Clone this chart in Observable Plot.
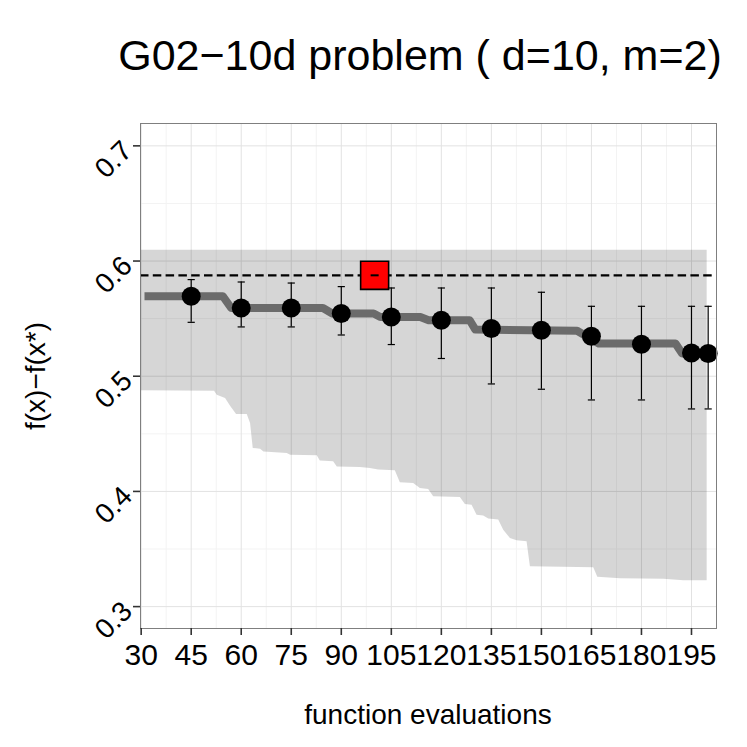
<!DOCTYPE html>
<html>
<head>
<meta charset="utf-8">
<script src="https://cdn.jsdelivr.net/npm/d3@7"></script>
<script src="https://cdn.jsdelivr.net/npm/@observablehq/plot@0.6"></script>
<style>
  html, body { margin: 0; padding: 0; background: white; }
  #chart { width: 747px; height: 747px; }
</style>
</head>
<body>
<div id="chart"></div>
<script>
// ---- data ----
const titleText = "G02−10d problem ( d=10, m=2)";
const xLabel = "function evaluations";
const yLabel = "f(x)−f(x*)";

const xTicks = [30, 45, 60, 75, 90, 105, 120, 135, 150, 165, 180, 195];
const xMinor = [37.5, 52.5, 67.5, 82.5, 97.5, 112.5, 127.5, 142.5, 157.5, 172.5, 187.5];
const yTicks = [0.3, 0.4, 0.5, 0.6, 0.7];
const yMinor = [0.35, 0.45, 0.55, 0.65];

// points with error bars (every 15 evaluations + final)
const evalX = [45, 60, 75, 90, 105, 120, 135, 150, 165, 180, 195, 200];
const meanY = [0.5694, 0.5592, 0.5592, 0.5544, 0.5514, 0.5486, 0.5414, 0.5399, 0.5347, 0.5278, 0.5202, 0.5197];
const errHi = [0.5839, 0.5818, 0.5809, 0.5778, 0.5766, 0.5766, 0.5766, 0.5729, 0.5607, 0.5607, 0.5607, 0.5607];
const errLo = [0.5468, 0.5428, 0.5428, 0.5358, 0.5275, 0.5154, 0.4933, 0.4887, 0.4794, 0.4794, 0.4716, 0.4716];

// thick grey step line
const stepX = [31, 54.5, 57, 84.5, 87.3, 99.7, 101.7, 113.7, 116.2, 128.5, 130.2, 160.7, 167.2, 190.2, 192.2, 200];
const stepY = [0.5694, 0.5694, 0.5592, 0.5592, 0.5544, 0.5544, 0.5514, 0.5514, 0.5486, 0.5486, 0.5405, 0.5395, 0.5284, 0.5284, 0.5197, 0.5197];

// ribbon (lower edge varies, upper edge constant)
const ribX = [30, 52.0, 52.8, 55.3, 56.8, 58.6, 61.8, 62.8, 63.6, 65.8, 66.8, 73.8, 74.8, 82.8, 83.7, 87.7, 88.8, 95.7, 98.7, 101.2, 106.2, 107.7, 111.7, 113.7, 116.2, 117.7, 125.7, 127.2, 129.2, 130.7, 132.7, 134.2, 137.2, 138.7, 140.7, 142.7, 145.7, 146.7, 165.7, 166.9, 173.7, 186.7, 192.7, 199.7];
const ribLo = [0.4873, 0.487, 0.4835, 0.4807, 0.474, 0.4668, 0.4668, 0.459, 0.4373, 0.4367, 0.4343, 0.433, 0.4315, 0.4309, 0.4265, 0.4257, 0.4213, 0.4208, 0.42, 0.4185, 0.4179, 0.4075, 0.4069, 0.4026, 0.4017, 0.3953, 0.3948, 0.3887, 0.3881, 0.3794, 0.3786, 0.376, 0.3751, 0.3664, 0.3592, 0.3572, 0.3563, 0.3346, 0.3337, 0.3254, 0.3242, 0.3237, 0.3225, 0.3225];
const ribHi = 0.6093;

// reference value (dashed line) and red square marker
const refY = [0.5876];
const squareX = [100];
const squareY = [0.5876];

// ---- build tables ----
const points = evalX.map((x, i) => ({x, y: meanY[i], lo: errLo[i], hi: errHi[i]}));
const step = stepX.map((x, i) => ({x, y: stepY[i]}));
const ribbon = ribX.map((x, i) => ({x, lo: ribLo[i], hi: ribHi}));
const square = squareX.map((x, i) => ({x, y: squareY[i]}));

const capSymbol = {
  draw(context, size) {
    const r = Math.sqrt(size / Math.PI);
    context.moveTo(-r, 0);
    context.lineTo(r, 0);
  }
};

const font = "'Liberation Sans', Arial, Helvetica, sans-serif";

const svg = Plot.plot({
  width: 747,
  height: 747,
  marginLeft: 140,
  marginRight: 31,
  marginTop: 123,
  marginBottom: 119,
  style: {fontFamily: font, background: "white", color: "black"},
  x: {domain: [29.8, 202.5], label: null},
  y: {domain: [0.281, 0.7194], label: null},
  marks: [
    Plot.ruleX(xMinor, {stroke: "#f3f3f3", strokeWidth: 1}),
    Plot.ruleY(yMinor, {stroke: "#f3f3f3", strokeWidth: 1}),
    Plot.ruleX(xTicks, {stroke: "#e2e2e2", strokeWidth: 1}),
    Plot.ruleY(yTicks, {stroke: "#e2e2e2", strokeWidth: 1}),
    Plot.areaY(ribbon, {x: "x", y1: "lo", y2: "hi", fill: "black", fillOpacity: 0.16, curve: "linear"}),
    Plot.line(step, {x: "x", y: "y", stroke: "#6b6b6b", strokeWidth: 8, strokeLinejoin: "round", strokeLinecap: "butt"}),
    Plot.ruleY(refY, {stroke: "black", strokeWidth: 2.2, strokeDasharray: "8.5,4.3"}),
    Plot.dot(points, {x: "x", y: "y", r: 9.5, fill: "black", stroke: "none"}),
    Plot.dot(square, {x: "x", y: "y", symbol: "square", r: 15.8, fill: "#ff0000", stroke: "black", strokeWidth: 1.6}),
    Plot.ruleX(points, {x: "x", y1: "lo", y2: "hi", stroke: "black", strokeWidth: 1.2}),
    Plot.dot(points, {x: "x", y: "hi", symbol: capSymbol, r: 3.6, stroke: "black", strokeWidth: 1.2, fill: "none"}),
    Plot.dot(points, {x: "x", y: "lo", symbol: capSymbol, r: 3.6, stroke: "black", strokeWidth: 1.2, fill: "none"}),
    Plot.dot(square, {x: "x", y: "y", symbol: capSymbol, r: 4, stroke: "black", strokeWidth: 2, fill: "none"}),
    Plot.frame({stroke: "#7f7f7f", strokeWidth: 1}),
    Plot.axisX({ticks: xTicks, tickFormat: d => String(d), tickSize: 7, tickPadding: 8, fontSize: 30, stroke: "#333", strokeWidth: 1.6, label: null}),
    Plot.axisY({ticks: yTicks, tickFormat: d => d.toFixed(1), tickSize: 7, tickPadding: 6, tickRotate: -45, fontSize: 28, stroke: "#333", strokeWidth: 1.6, label: null})
  ]
});

const s = d3.select(svg);
s.append("text")
  .attr("x", 420).attr("y", 70)
  .attr("text-anchor", "middle")
  .attr("font-size", 43)
  .attr("font-family", font)
  .attr("fill", "black")
  .text(titleText);
s.append("text")
  .attr("x", 428).attr("y", 724)
  .attr("text-anchor", "middle")
  .attr("font-size", 28)
  .attr("font-family", font)
  .attr("fill", "black")
  .text(xLabel);
s.append("text")
  .attr("transform", "translate(45,376) rotate(-90)")
  .attr("text-anchor", "middle")
  .attr("font-size", 28)
  .attr("font-family", font)
  .attr("fill", "black")
  .text(yLabel);

document.getElementById("chart").appendChild(svg);
</script>
</body>
</html>
